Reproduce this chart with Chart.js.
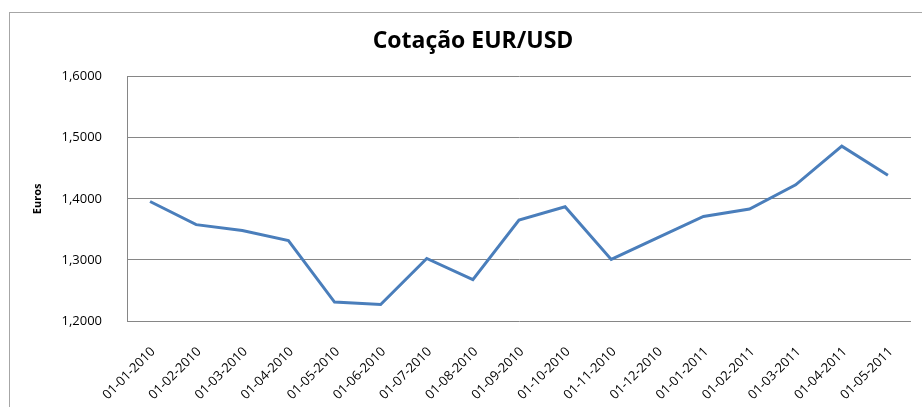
<!DOCTYPE html>
<html>
<head>
<meta charset="utf-8">
<script src="https://cdn.jsdelivr.net/npm/chart.js@4.4.1/dist/chart.umd.min.js"></script>
<style>
    html, body { margin: 0; padding: 0; background: #fff; overflow: hidden; }
    #frame { position: absolute; left: 9px; top: 12px; width: 940px; height: 420px; border: 1px solid #a6a6a6; }
    #wrap { position: absolute; left: 0; top: 0; width: 922px; height: 407px; }
</style>
</head>
<body>
<div id="frame"></div>
<div id="wrap"><canvas id="chart" width="922" height="407"></canvas></div>
<script>
// Dates (dd-mm-yyyy) and monthly EUR/USD quote
const dates = [
    '01-01-2010', '01-02-2010', '01-03-2010', '01-04-2010', '01-05-2010', '01-06-2010',
    '01-07-2010', '01-08-2010', '01-09-2010', '01-10-2010', '01-11-2010', '01-12-2010',
    '01-01-2011', '01-02-2011', '01-03-2011', '01-04-2011', '01-05-2011'
];
const quotes = [
    1.3956, 1.3577, 1.3480, 1.3317, 1.2309, 1.2271,
    1.3024, 1.2678, 1.3653, 1.3870, 1.3008, 1.3360,
    1.3712, 1.3832, 1.4228, 1.4862, 1.4385
];
const yTicks = [1.2, 1.3, 1.4, 1.5, 1.6];

const fontFamily = "'Open Sans', sans-serif";

new Chart(document.getElementById('chart'), {
    type: 'line',
    data: {
        labels: dates,
        datasets: [{
            data: quotes,
            borderColor: '#4a7ebb',
            borderWidth: 3,
            pointRadius: 0,
            tension: 0,
            fill: false
        }]
    },
    options: {
        responsive: false,
        animation: false,
        // left padding pushes the title centre right, like the original frame
        layout: { padding: { left: 26, right: 2, top: 0, bottom: 0 } },
        plugins: {
            legend: { display: false },
            tooltip: { enabled: false },
            title: {
                display: true,
                text: 'Cotação EUR/USD',
                color: '#000',
                font: { family: fontFamily, size: 23, weight: 'bold' },
                padding: { top: 28, bottom: 21 }
            }
        },
        scales: {
            x: {
                offset: true,
                grid: { display: false, drawTicks: false },
                border: { display: false },
                ticks: {
                    color: '#000',
                    font: { family: fontFamily, size: 13 },
                    minRotation: 45,
                    maxRotation: 45,
                    padding: 23,
                    labelOffset: 3,
                    autoSkip: false
                },
                afterFit: scale => { scale.height = 86; }
            },
            y: {
                min: 1.2,
                max: 1.6,
                afterBuildTicks: scale => { scale.ticks = yTicks.map(v => ({ value: v })); },
                grid: { color: '#868686', lineWidth: 1, drawTicks: false },
                border: { display: true, color: '#868686', width: 1 },
                ticks: {
                    color: '#000',
                    font: { family: fontFamily, size: 13 },
                    padding: 25,
                    callback: v => v.toFixed(4).replace('.', ',')
                },
                title: {
                    display: true,
                    text: 'Euros',
                    color: '#000',
                    font: { family: fontFamily, size: 11, weight: 'bold' },
                    padding: { top: 5, bottom: 0 }
                },
                afterFit: scale => { scale.width = 101; }
            }
        }
    }
});
</script>
</body>
</html>
